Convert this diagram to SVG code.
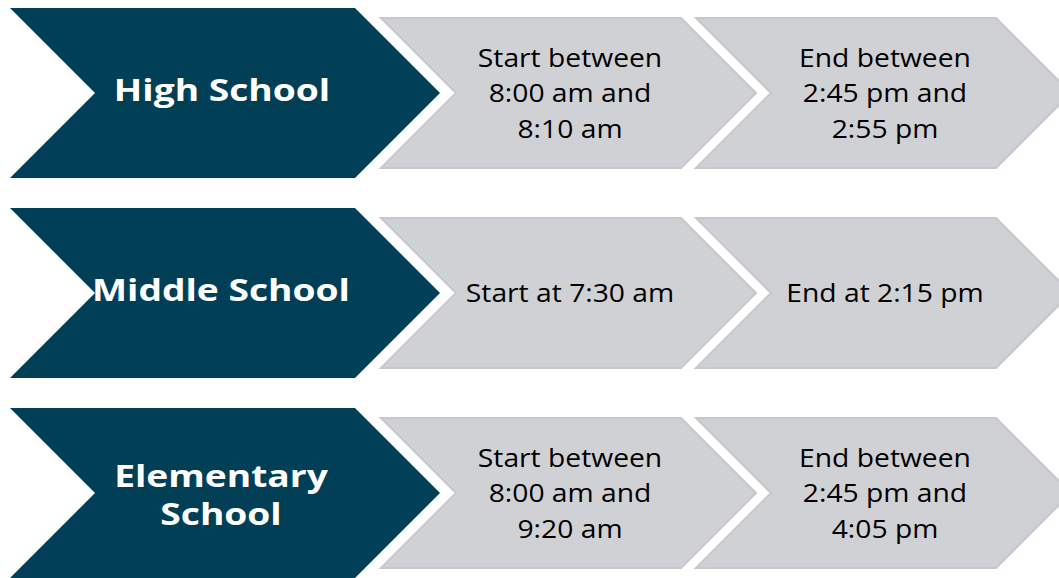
<svg xmlns="http://www.w3.org/2000/svg" width="1059" height="578" viewBox="0 0 1059 578">
  <defs>
    <style>
      .lead { fill: #013F57; }
      .step { fill: #D0D1D4; stroke: #C6C8CB; stroke-width: 2; stroke-linejoin: miter; }
      .lead-text { font-family: "Open Sans", "Liberation Sans", sans-serif; font-weight: 700; font-size: 30px; fill: #FFFFFF; text-anchor: middle; }
      .step-text { font-family: "Open Sans", "Liberation Sans", sans-serif; font-weight: 400; font-size: 26px; fill: #000000; text-anchor: middle; }
    </style>
    <!-- chevron shapes, positioned per row with translate -->
    <polygon id="leadShape" points="10,8 355,8 440,93 355,178 10,178 95,93"/>
    <polygon id="stepShape" points="0,0 300,0 375,75 300,150 0,150 75,75"/>
  </defs>
  <rect width="1059" height="578" fill="#FFFFFF"/>

  <!-- Row 1: High School -->
  <g id="high-school">
    <use href="#leadShape" class="lead"/>
    <text class="lead-text" transform="translate(222,101) scale(1.24,1)">High School</text>
  </g>
  <g id="high-school-start">
    <use href="#stepShape" class="step" transform="translate(381,18)"/>
    <text class="step-text" transform="translate(570,67) scale(1.087,1)">Start between</text>
    <text class="step-text" transform="translate(570,102) scale(1.087,1)">8:00 am and</text>
    <text class="step-text" transform="translate(570,138) scale(1.087,1)">8:10 am</text>
  </g>
  <g id="high-school-end">
    <use href="#stepShape" class="step" transform="translate(696,18)"/>
    <text class="step-text" transform="translate(885,67) scale(1.087,1)">End between</text>
    <text class="step-text" transform="translate(885,102) scale(1.087,1)">2:45 pm and</text>
    <text class="step-text" transform="translate(885,138) scale(1.087,1)">2:55 pm</text>
  </g>

  <!-- Row 2: Middle School -->
  <g id="middle-school">
    <use href="#leadShape" class="lead" transform="translate(0,200)"/>
    <text class="lead-text" transform="translate(221,301) scale(1.24,1)">Middle School</text>
  </g>
  <g id="middle-school-start">
    <use href="#stepShape" class="step" transform="translate(381,218)"/>
    <text class="step-text" transform="translate(570,302) scale(1.087,1)">Start at 7:30 am</text>
  </g>
  <g id="middle-school-end">
    <use href="#stepShape" class="step" transform="translate(696,218)"/>
    <text class="step-text" transform="translate(885,302) scale(1.087,1)">End at 2:15 pm</text>
  </g>

  <!-- Row 3: Elementary School -->
  <g id="elementary-school">
    <use href="#leadShape" class="lead" transform="translate(0,400)"/>
    <text class="lead-text" transform="translate(221,487) scale(1.24,1)">Elementary</text>
    <text class="lead-text" transform="translate(221,525) scale(1.24,1)">School</text>
  </g>
  <g id="elementary-school-start">
    <use href="#stepShape" class="step" transform="translate(381,418)"/>
    <text class="step-text" transform="translate(570,467) scale(1.087,1)">Start between</text>
    <text class="step-text" transform="translate(570,502) scale(1.087,1)">8:00 am and</text>
    <text class="step-text" transform="translate(570,538) scale(1.087,1)">9:20 am</text>
  </g>
  <g id="elementary-school-end">
    <use href="#stepShape" class="step" transform="translate(696,418)"/>
    <text class="step-text" transform="translate(885,467) scale(1.087,1)">End between</text>
    <text class="step-text" transform="translate(885,502) scale(1.087,1)">2:45 pm and</text>
    <text class="step-text" transform="translate(885,538) scale(1.087,1)">4:05 pm</text>
  </g>

  <!-- no connectors: steps are joined by chevron adjacency -->
  <g id="connectors"/>
</svg>
